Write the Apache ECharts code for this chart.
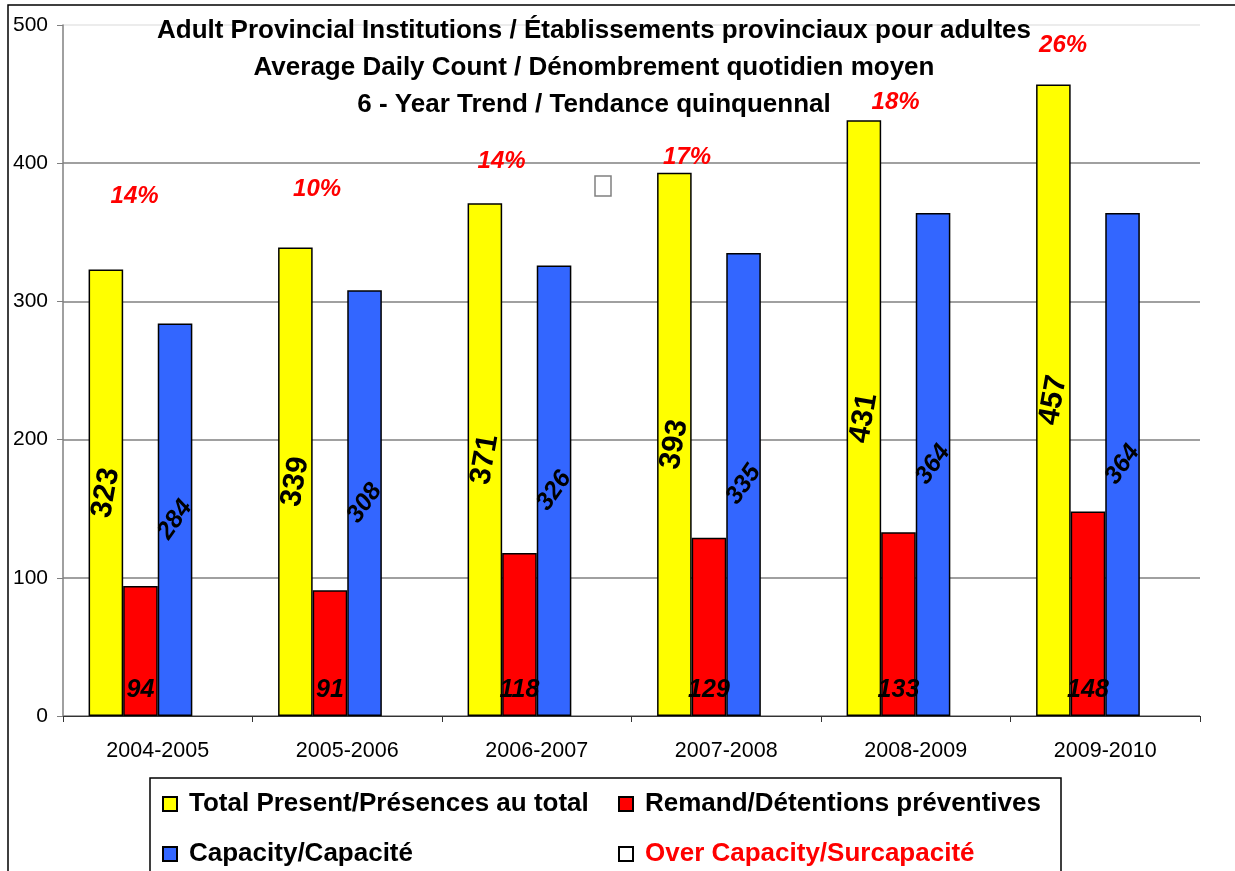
<!DOCTYPE html>
<html lang="en">
<head>
    <meta charset="UTF-8">
    <title>Adult Provincial Institutions</title>
    <script src="https://cdn.jsdelivr.net/npm/echarts@6/dist/echarts.min.js" type="text/javascript"></script>
</head>
<body>
<style>
    html, body {
        margin: 0;
        height: 100%;
        width: 100%;
        background: #fff;
    }

    #main {
        width: 1235px;
        height: 871px;
    }
</style>
<div id="main"></div>
<script type="text/javascript">
    // data
    var years = ['2004-2005', '2005-2006', '2006-2007', '2007-2008', '2008-2009', '2009-2010']
    var totalPresent = [323, 339, 371, 393, 431, 457]
    var remand = [94, 91, 118, 129, 133, 148]
    var capacity = [284, 308, 326, 335, 364, 364]
    var overCapacity = ['14%', '10%', '14%', '17%', '18%', '26%']
    var yTicks = [0, 100, 200, 300, 400, 500]

    // where the hand-placed % text boxes sit (y in axis units, x shift in px from the 4th bar)
    var pctSpot = [[376, -75], [381, -82], [401, -87], [404, -91], [444, -72], [485, -94]]

    var FONT = 'Liberation Sans, Arial, sans-serif'
    var names = ['Total Present/Présences au total', 'Remand/Détentions préventives',
        'Capacity/Capacité', 'Over Capacity/Surcapacité']

    var barBorder = {borderColor: '#000', borderWidth: 1.5}

    // one legend per entry so the two columns line up like the original box
    var legendSpots = [[162, 791], [618, 791], [162, 841], [618, 841]]
    var legends = names.map(function (n, i) {
        return {
            data: [n],
            left: legendSpots[i][0],
            top: legendSpots[i][1],
            padding: 0,
            icon: 'rect',
            itemWidth: 14,
            itemHeight: 14,
            textStyle: {
                fontFamily: FONT, fontSize: 26, fontWeight: 'bold',
                color: i === 3 ? '#ff0000' : '#000', padding: [0, 0, 0, 7]
            }
        }
    })

    var option = {
        backgroundColor: '#fff',
        animation: false,
        title: {
            text: 'Adult Provincial Institutions / Établissements provinciaux pour adultes\n' +
                'Average Daily Count / Dénombrement quotidien moyen\n' +
                '6 - Year Trend / Tendance quinquennal',
            left: 589,
            top: 7,
            textAlign: 'center',
            textStyle: {
                fontFamily: FONT,
                fontSize: 26,
                fontWeight: 'bold',
                lineHeight: 37,
                color: '#000'
            }
        },
        grid: {left: 63, right: 35, top: 25, bottom: 155, containLabel: false},
        legend: legends,
        xAxis: {
            type: 'category',
            data: years,
            axisLine: {lineStyle: {color: '#333', width: 1}},
            axisTick: {show: true, length: 6, lineStyle: {color: '#333'}},
            axisLabel: {fontFamily: FONT, fontSize: 21.5, color: '#000', margin: 24}
        },
        yAxis: {
            type: 'value',
            min: 0,
            max: 500,
            interval: 100,
            axisLine: {show: true, lineStyle: {color: '#808080', width: 1.5}},
            axisTick: {show: true, length: 6, lineStyle: {color: '#808080'}},
            axisLabel: {
                fontFamily: FONT, fontSize: 21, color: '#000', margin: 15,
                formatter: function (v) { return yTicks.indexOf(v) >= 0 ? String(v) : '' }
            },
            splitLine: {
                lineStyle: {color: ['#808080', '#808080', '#808080', '#808080', '#808080', '#e6e6e6'], width: 1.5}
            }
        },
        series: [{
            name: names[0],
            type: 'bar',
            data: totalPresent,
            barGap: '0%',
            barCategoryGap: '27%',
            itemStyle: Object.assign({color: '#ffff00'}, barBorder),
            label: {
                show: true,
                position: 'inside',
                rotate: 80,
                fontFamily: FONT,
                fontSize: 30,
                fontWeight: 'bold',
                color: '#000'
            }
        }, {
            name: names[1],
            type: 'bar',
            data: remand,
            itemStyle: Object.assign({color: '#ff0000'}, barBorder),
            label: {
                show: true,
                position: 'insideBottom',
                distance: 13,
                fontFamily: FONT,
                fontSize: 25,
                fontWeight: 'bold',
                fontStyle: 'italic',
                color: '#000'
            }
        }, {
            name: names[2],
            type: 'bar',
            data: capacity,
            itemStyle: Object.assign({color: '#3366ff'}, barBorder),
            label: {
                show: true,
                position: 'inside',
                rotate: 55,
                fontFamily: FONT,
                fontSize: 25,
                fontWeight: 'bold',
                fontStyle: 'italic',
                color: '#000'
            }
        }, {
            name: names[3],
            type: 'bar',
            data: years.map(function () { return null }),
            itemStyle: Object.assign({color: '#ffffff'}, barBorder),
            markPoint: {
                symbol: 'circle',
                symbolSize: 0,
                data: overCapacity.map(function (p, i) {
                    return {
                        coord: [years[i], pctSpot[i][0]],
                        value: p,
                        label: {offset: [pctSpot[i][1], 0]}
                    }
                }),
                label: {
                    show: true,
                    position: 'inside',
                    formatter: '{c}',
                    fontFamily: FONT,
                    fontSize: 24,
                    fontWeight: 'bold',
                    fontStyle: 'italic',
                    color: '#ff0000'
                }
            }
        }],
        graphic: [{
            type: 'rect',
            shape: {x: 8, y: 5, width: 1240, height: 880},
            style: {fill: 'none', stroke: '#000', lineWidth: 1.5},
            silent: true
        }, {
            type: 'rect',
            shape: {x: 150, y: 778, width: 911, height: 110},
            style: {fill: 'none', stroke: '#000', lineWidth: 1.5},
            silent: true
        }, {
            // stray empty box in the source chart
            type: 'rect',
            shape: {x: 595, y: 176, width: 16, height: 20},
            style: {fill: 'none', stroke: '#808080', lineWidth: 1.5},
            silent: true
        }]
    }

    var myChart = echarts.init(document.getElementById('main'))
    myChart.setOption(option)
</script>
</body>
</html>
